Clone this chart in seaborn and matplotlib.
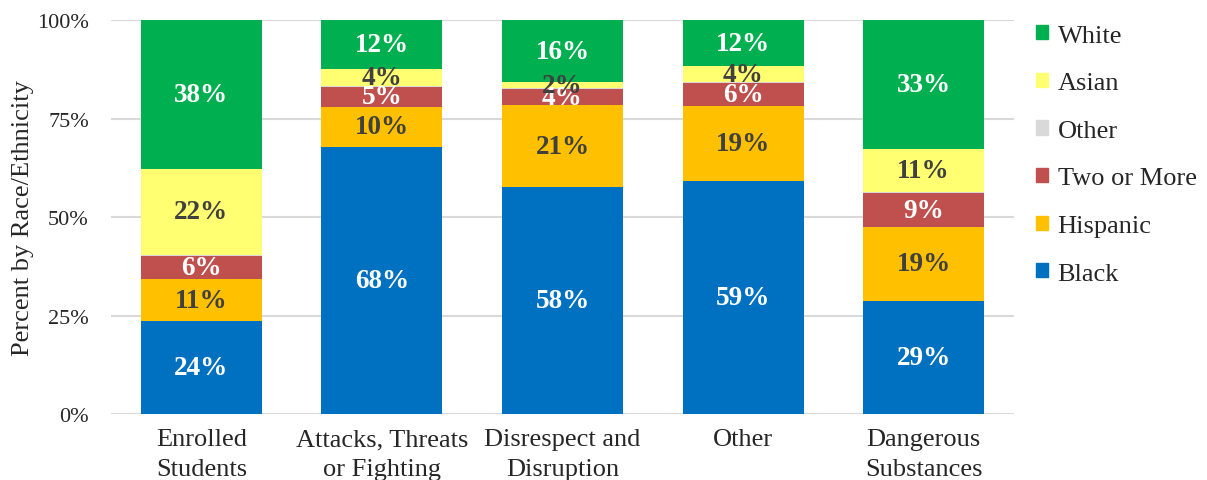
import pandas as pd
import seaborn as sns
import matplotlib.pyplot as plt
from matplotlib.patches import Patch

categories = ['Enrolled\nStudents', 'Attacks, Threats\nor Fighting', 'Disrespect and\nDisruption',
              'Other', 'Dangerous\nSubstances']

# stacked from bottom to top
black = [23.6, 67.8, 57.6, 59.2, 28.8]
hispanic = [10.6, 10.2, 20.8, 19.0, 18.7]
two_or_more = [6.0, 5.0, 4.1, 5.8, 8.6]
other = [0.3, 0.4, 0.2, 0.3, 0.2]
asian = [21.8, 4.3, 1.6, 4.0, 11.1]
white = [37.7, 12.3, 15.7, 11.7, 32.6]

groups = ['Black', 'Hispanic', 'Two or More', 'Other', 'Asian', 'White']
series = [black, hispanic, two_or_more, other, asian, white]
colors = {'Black': '#0070C0', 'Hispanic': '#FFC000', 'Two or More': '#C0504D',
          'Other': '#D9D9D9', 'Asian': '#FFFF71', 'White': '#00B050'}
label_colors = {'Black': 'white', 'Hispanic': '#404040', 'Two or More': 'white',
                'Other': None, 'Asian': '#404040', 'White': 'white'}

sns.set_theme(style='white')
plt.rcParams['font.family'] = ['Liberation Serif', 'DejaVu Serif']

fig, ax = plt.subplots(figsize=(12.07, 4.81), dpi=100)
fig.subplots_adjust(left=0.092, right=0.840, top=0.956, bottom=0.137)

ax.set_axisbelow(True)
ax.yaxis.grid(True, color='#D9D9D9', linewidth=1.5)

bottom = [0.0] * len(categories)
for name, vals in zip(groups, series):
    df = pd.DataFrame({'cat': categories, 'val': vals})
    sns.barplot(data=df, x='cat', y='val', color=colors[name], width=0.67,
                bottom=bottom, saturation=1, linewidth=0, ax=ax)
    if label_colors[name]:
        for i, v in enumerate(vals):
            ax.text(i, bottom[i] + v / 2, f'{v:.0f}%', ha='center', va='center',
                    fontsize=19.5, fontweight='bold', color=label_colors[name])
    bottom = [b + v for b, v in zip(bottom, vals)]

ax.set_ylim(0, 100)
ax.set_xlim(-0.5, len(categories) - 0.5)
ax.set_yticks([0, 25, 50, 75, 100])
ax.set_yticklabels(['0%', '25%', '50%', '75%', '100%'], fontsize=16)
for t in ax.get_xticklabels():
    t.set_linespacing(1.45)
ax.tick_params(axis='x', labelsize=19, length=0, pad=10)
ax.tick_params(axis='y', length=0, pad=16)
ax.set_xlabel('')
ax.set_ylabel('Percent by Race/Ethnicity', fontsize=19, labelpad=2)
sns.despine(ax=ax, left=True, bottom=True)

handles = [Patch(color=colors[g], label=g) for g in reversed(groups)]
fig.legend(handles=handles, loc='upper left', bbox_to_anchor=(0.839, 0.996),
           frameon=False, fontsize=19, handlelength=0.45, handleheight=0.45,
           handletextpad=0.35, labelspacing=0.97)

fig.savefig('out.png', dpi=100)
